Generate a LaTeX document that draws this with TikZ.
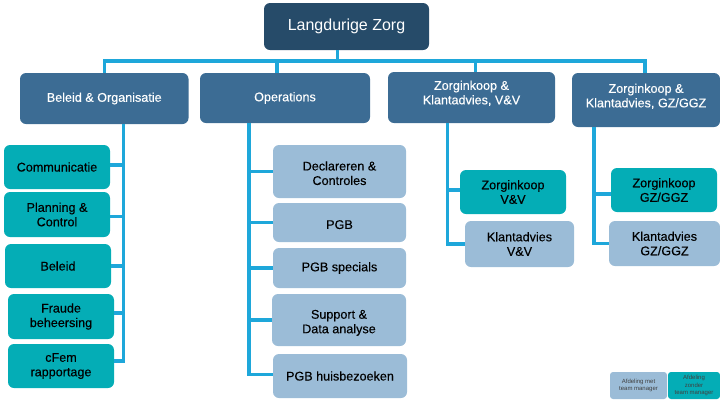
\documentclass[tikz,border=0pt]{standalone}
\usepackage{fontspec}
\setmainfont{Liberation Sans}
\newfontfamily\heavyfont[FakeBold=0.3]{Liberation Sans}
\usetikzlibrary{calc,positioning}
\definecolor{topblue}{HTML}{264B69}
\definecolor{headblue}{HTML}{3C6C94}
\definecolor{deptteal}{HTML}{04ADB6}
\definecolor{deptblue}{HTML}{9BBCD7}
\definecolor{linkblue}{HTML}{1EA7DA}
\tikzset{
    every node/.style={
        font=\heavyfont\fontsize{12.6}{14.5}\selectfont
    },
    block/.style={
        shape=rectangle,
        rounded corners=6pt,
        text centered,
        align=center,
        inner sep=0pt
    },
    head/.style={block, fill=headblue, text=white},
    teal/.style={block, fill=deptteal, text=black},
    pale/.style={block, fill=deptblue, text=black},
    legend/.style={block, rounded corners=3pt, font=\rmfamily\fontsize{6}{7.5}\selectfont, text=black!75},
    link/.style={draw=linkblue, line width=3.3pt}
}
\begin{document}
\begin{tikzpicture}[x=1pt,y=-1pt]
	\useasboundingbox (0,0) rectangle (720,405);
	% Top
	\node (top) at (346.5,26.5) [block, fill=topblue, text=white, minimum width=165pt, minimum height=47pt, font=\rmfamily\fontsize{16}{18}\selectfont] {Langdurige Zorg};
	% Heads
	\node (beleidorg) at (104.25,98.5) [head, minimum width=168.5pt, minimum height=51pt] {Beleid \& Organisatie};
	\node (operations) at (285,98) [head, minimum width=170pt, minimum height=50pt] {Operations};
	\node (zorgvv) at (471.5,97.5) [head, minimum width=167pt, minimum height=51pt, text depth=10pt] {Zorginkoop \&\\Klantadvies, V\&V};
	\node (zorggz) at (646,100) [head, minimum width=148pt, minimum height=54pt, text depth=9pt] {Zorginkoop \&\\Klantadvies, GZ/GGZ};
	% Left column
	\node (communicatie) at (57,167) [teal, minimum width=106pt, minimum height=44pt] {Communicatie};
	\node (planning) at (57,214.5) [teal, minimum width=106pt, minimum height=45pt] {Planning \&\\Control};
	\node (beleid) at (58,266) [teal, minimum width=106pt, minimum height=44pt] {Beleid};
	\node (fraude) at (61,316.5) [teal, minimum width=106pt, minimum height=45pt] {Fraude\\beheersing};
	\node (cfem) at (61,366) [teal, minimum width=106pt, minimum height=44pt] {cFem\\rapportage};
	% Second column
	\node (declareren) at (339.5,171.5) [pale, minimum width=133pt, minimum height=53pt, text height=27pt] {Declareren \&\\Controles};
	\node (pgb) at (339.5,222.5) [pale, minimum width=133pt, minimum height=39pt, text height=13pt] {PGB};
	\node (specials) at (339.5,268) [pale, minimum width=133pt, minimum height=40pt] {PGB specials};
	\node (support) at (339,320) [pale, minimum width=134pt, minimum height=52pt, text height=29pt] {Support \&\\Data analyse};
	\node (huis) at (340,376) [pale, minimum width=134pt, minimum height=44pt] {PGB huisbezoeken};
	% Right columns
	\node (inkoopvv) at (513,192) [teal, minimum width=106pt, minimum height=44pt] {Zorginkoop\\V\&V};
	\node (advvv) at (519.5,244) [pale, minimum width=109pt, minimum height=46pt] {Klantadvies\\V\&V};
	\node (inkoopgz) at (664,190) [teal, minimum width=106pt, minimum height=44pt] {Zorginkoop\\GZ/GGZ};
	\node (advgz) at (664.5,243.5) [pale, minimum width=111pt, minimum height=45pt] {Klantadvies\\GZ/GGZ};
	% Legend
	\node (legmet) at (638.5,385.5) [legend, fill=deptblue, minimum width=57pt, minimum height=27pt] {Afdeling met\\team manager};
	\node (legzonder) at (694,385.5) [legend, fill=deptteal, minimum width=52pt, minimum height=27pt] {Afdeling\\zonder\\team manager};
	% Connectors
	\coordinate (bus) at (337.5,61);
	\coordinate (trunkb) at (123.5,0);
	\coordinate (trunko) at (249,0);
	\coordinate (trunkv) at (447.7,0);
	\coordinate (trunkg) at (594,0);
	\draw [link] (top.south -| bus) -- (bus);
	\draw [link] (beleidorg.north) |- (bus);
	\draw [link] (operations.north -| 277,0) |- (bus);
	\draw [link] (zorgvv.north -| 475.5,0) |- (bus);
	\draw [link] (zorggz.north -| 645,0) |- (bus);
	\draw [link] (beleidorg.south -| trunkb) |- ([yshift=5pt]cfem.east);
	\draw [link] (operations.south -| trunko) |- ([yshift=1.5pt]huis.west);
	\draw [link] (zorgvv.south -| trunkv) |- (advvv.west);
	\draw [link] (zorggz.south -| trunkg) |- (advgz.west);
	\draw [link] ([yshift=2pt]communicatie.east) -- ([yshift=2pt]communicatie.east -| trunkb);
	\draw [link] ([yshift=-2pt]planning.east) -- ([yshift=-2pt]planning.east -| trunkb);
	\draw [link] (beleid.east) -- (beleid.east -| trunkb);
	\draw [link] ([yshift=3.5pt]fraude.east) -- ([yshift=3.5pt]fraude.east -| trunkb);
	\draw [link] (declareren.west) -- (declareren.west -| trunko);
	\draw [link] (pgb.west) -- (pgb.west -| trunko);
	\draw [link] (specials.west) -- (specials.west -| trunko);
	\draw [link] (support.west) -- (support.west -| trunko);
	\draw [link] ([yshift=2pt]inkoopvv.west) -- ([yshift=2pt]inkoopvv.west -| trunkv);
	\draw [link] ([yshift=-4pt]inkoopgz.west) -- ([yshift=-4pt]inkoopgz.west -| trunkg);
\end{tikzpicture}
\end{document}
